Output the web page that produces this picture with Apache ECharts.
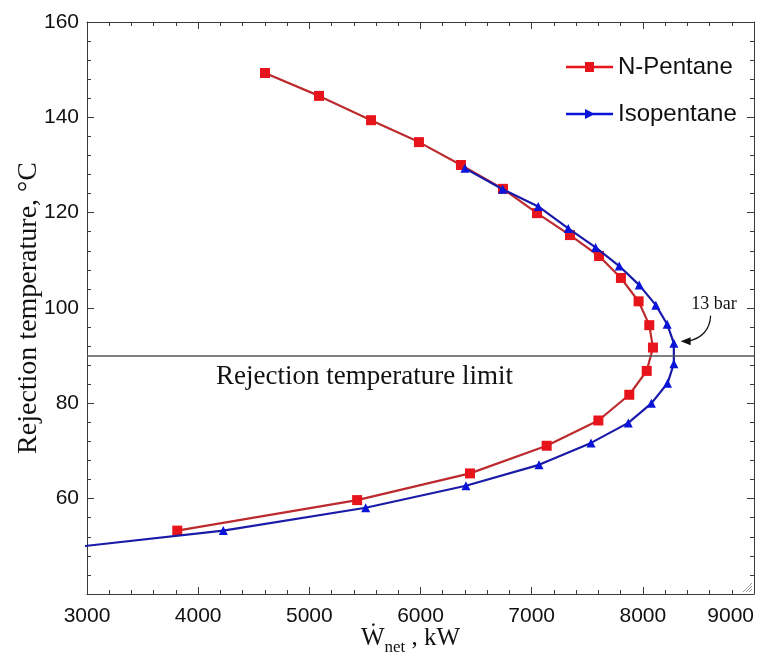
<!DOCTYPE html>
<html>
<head>
<meta charset="utf-8">
<script src="https://cdn.jsdelivr.net/npm/echarts@6/dist/echarts.min.js"></script>
<style>html,body{margin:0;padding:0;background:#fff;}#c{width:771px;height:657px;}</style>
</head>
<body>
<div id="c"></div>
<script>
// Data
const seriesNames = ['N-Pentane', 'Isopentane'];
const nPentaneW = [4601, 5087, 5555, 5986, 6364, 6742, 7048, 7345, 7606, 7803, 7962, 8058, 8091, 8035, 7878, 7600, 7135, 6445, 5430, 3812];
const nPentaneT = [149.3, 144.5, 139.4, 134.8, 130.0, 125.0, 119.9, 115.3, 110.9, 106.3, 101.4, 96.4, 91.7, 86.8, 81.8, 76.4, 71.1, 65.3, 59.7, 53.3];
const isopentaneW = [6400, 6739, 7059, 7329, 7575, 7788, 7968, 8117, 8219, 8279, 8279, 8222, 8077, 7869, 7534, 7066, 6409, 5507, 4226, 2800];
const isopentaneT = [129.3, 124.9, 121.3, 116.7, 112.7, 108.8, 104.8, 100.6, 96.6, 92.6, 88.3, 84.2, 80.0, 75.9, 71.7, 67.1, 62.7, 58.1, 53.3, 49.6];
const limitTemp = 90;
const limitLabel = 'Rejection temperature limit';
const annotationText = '13 bar';
const xTicks = {min: 3000, max: 9000, interval: 1000};
const yTicks = {min: 40, max: 160, interval: 20};

const pair = (xs, ys) => xs.map((x, i) => [x, ys[i]]);

const chart = echarts.init(document.getElementById('c'), null, {renderer: 'canvas'});
const axisCommon = {
  type: 'value',
  axisLine: {show: true, onZero: false, lineStyle: {color: '#3a3a3a', width: 1}},
  axisTick: {show: true, inside: true, length: 7, lineStyle: {color: '#3a3a3a'}},
  minorTick: {show: true, splitNumber: 5, length: 4, lineStyle: {color: '#3a3a3a'}},
  splitLine: {show: false}
};
const legendIcons = {
  'N-Pentane': 'path://M0,5L47,5L47,7.4L0,7.4Z M19,1.2L28,1.2L28,11.2L19,11.2Z',
  'Isopentane': 'path://M0,5L47,5L47,7.4L0,7.4Z M19,1.2L29,6.2L19,11.2Z'
};
const option = {
  animation: false,
  backgroundColor: '#fff',
  grid: {left: 87, right: 17, top: 22, bottom: 63, containLabel: false, outerBoundsMode: 'none'},
  legend: {
    orient: 'vertical', left: 566, top: 55, padding: 0, itemGap: 23, itemWidth: 47, itemHeight: 12,
    textStyle: {fontFamily: 'Liberation Sans', fontSize: 24, color: '#111'},
    data: seriesNames.map(n => ({name: n, icon: legendIcons[n]}))
  },
  xAxis: [
    Object.assign({}, axisCommon, {
      min: xTicks.min, max: xTicks.max, interval: xTicks.interval, position: 'bottom',
      axisLabel: {fontFamily: 'Liberation Sans', fontSize: 21, color: '#111', margin: 12,
        alignMaxLabel: 'right', formatter: v => String(v)},
      name: '{w|Ẇ}{sub|net}{w| , kW}', nameLocation: 'middle', nameGap: 32, nameMoveOverlap: false,
      nameTextStyle: {
        padding: [0, 20, 0, 0],
        rich: {
          w: {fontFamily: 'Liberation Serif', fontSize: 25, color: '#111', verticalAlign: 'top'},
          sub: {fontFamily: 'Liberation Serif', fontSize: 17, color: '#111', padding: [13, 0, 0, 0], verticalAlign: 'top'}
        }
      }
    }),
    Object.assign({}, axisCommon, {
      min: xTicks.min, max: xTicks.max, interval: xTicks.interval, position: 'top',
      axisLabel: {show: false}
    })
  ],
  yAxis: [
    Object.assign({}, axisCommon, {
      min: yTicks.min, max: yTicks.max, interval: yTicks.interval, position: 'left',
      axisLabel: {fontFamily: 'Liberation Sans', fontSize: 21, color: '#111', margin: 8,
        formatter: v => (v === yTicks.min ? '' : String(v))},
      name: 'Rejection temperature, °C', nameLocation: 'middle', nameGap: 44, nameMoveOverlap: false,
      nameTextStyle: {fontFamily: 'Liberation Serif', fontSize: 28, color: '#111'}
    }),
    Object.assign({}, axisCommon, {
      min: yTicks.min, max: yTicks.max, interval: yTicks.interval, position: 'right',
      axisLabel: {show: false}
    })
  ],
  series: [
    {
      name: seriesNames[0], type: 'line', data: pair(nPentaneW, nPentaneT),
      symbol: 'rect', symbolSize: 10, clip: true,
      lineStyle: {color: '#bc2a2e', width: 2.2},
      itemStyle: {color: '#e8141c'},
      markLine: {
        silent: true, symbol: 'none', animation: false,
        lineStyle: {color: '#555', width: 1.5, type: 'solid'},
        label: {show: false},
        data: [{yAxis: limitTemp}]
      },
      z: 3
    },
    {
      name: seriesNames[1], type: 'line', data: pair(isopentaneW, isopentaneT),
      symbol: 'triangle', symbolSize: 9, clip: true,
      lineStyle: {color: '#1a1aa8', width: 2.2},
      itemStyle: {color: '#0a14d8'},
      z: 4
    }
  ]
};
chart.setOption(option);

function addAnnotations() {
  const p = (x, y) => chart.convertToPixel({xAxisIndex: 0, yAxisIndex: 0}, [x, y]);
  const limitPos = p(3000 + (216 - 87) / 0.11117, limitTemp - 4.4);
  const tip = p(8340, 93.0);
  const start = p(8610, 98.4);
  const ctrl = p(8600, 94.0);
  const txt = p(8640, 100.8);
  const corner = p(xTicks.max, yTicks.min);
  const graphics = [
    {type: 'text', x: limitPos[0], y: limitPos[1], style: {text: limitLabel, fontFamily: 'Liberation Serif', fontSize: 27, fill: '#111', align: 'left', verticalAlign: 'middle'}},
    {type: 'text', x: txt[0], y: txt[1], style: {text: annotationText, fontFamily: 'Liberation Serif', fontSize: 18, fill: '#111', align: 'center', verticalAlign: 'middle'}},
    {type: 'bezierCurve', shape: {x1: start[0], y1: start[1], cpx1: ctrl[0], cpy1: ctrl[1], x2: tip[0] + 7, y2: tip[1]}, style: {stroke: '#111', lineWidth: 1.2, fill: null}},
    {type: 'polygon', shape: {points: [[tip[0], tip[1]], [tip[0] + 10, tip[1] - 4], [tip[0] + 10, tip[1] + 4]]}, style: {fill: '#111'}}
  ];
  for (let i = 0; i < 3; i++) {
    const o = 3 + i * 3;
    graphics.push({type: 'line', shape: {x1: corner[0] - 2, y1: corner[1] - o - 2, x2: corner[0] - o - 2, y2: corner[1] - 2}, style: {stroke: '#999', lineWidth: 1}});
  }
  chart.setOption({graphic: graphics});
}
addAnnotations();
</script>
</body>
</html>
